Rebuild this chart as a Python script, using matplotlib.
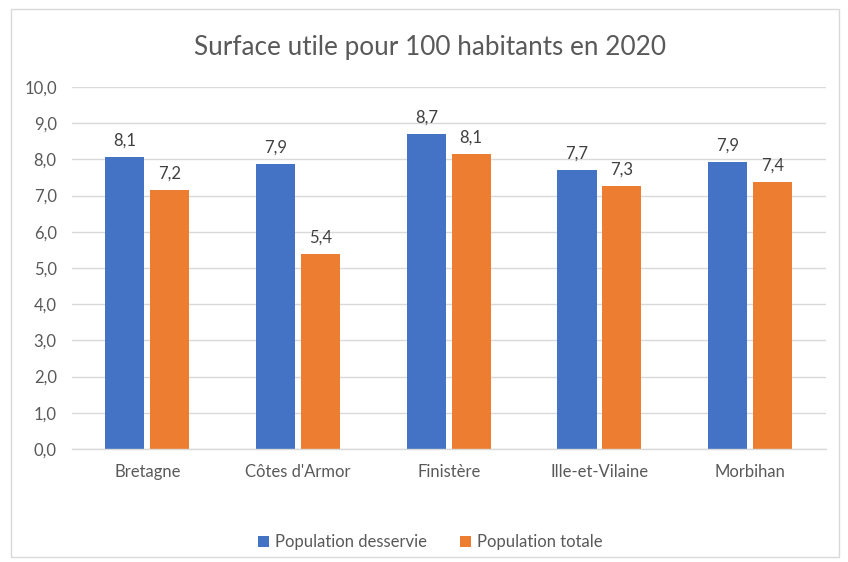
import matplotlib
matplotlib.use("Agg")
import matplotlib.pyplot as plt
import numpy as np
from matplotlib.patches import Rectangle

categories = ["Bretagne", "Côtes d'Armor", "Finistère", "Ille-et-Vilaine", "Morbihan"]
desservie = [8.07, 7.88, 8.70, 7.72, 7.94]
totale = [7.16, 5.40, 8.14, 7.27, 7.38]
series_names = ["Population desservie", "Population totale"]
yticks = [0, 1, 2, 3, 4, 5, 6, 7, 8, 9, 10]

plt.rcParams['font.family'] = ['Lato', 'DejaVu Sans']

fig = plt.figure(figsize=(8.48, 5.62), dpi=100)
ax = fig.add_axes([72/848, 1-449/562, (825.5-72)/848, (449-87)/562])

x = np.arange(len(categories))
w = 0.26
off = 0.149
blue = "#4472C4"
orange = "#ED7D31"
b1 = ax.bar(x - off, desservie, w, color=blue, label=series_names[0], zorder=3)
b2 = ax.bar(x + off, totale, w, color=orange, label=series_names[1], zorder=3)

for bars, vals in ((b1, desservie), (b2, totale)):
    for rect, v in zip(bars, vals):
        ax.annotate(f"{v:.1f}".replace(".", ","),
                    (rect.get_x() + rect.get_width()/2, v),
                    xytext=(0, 6), textcoords="offset points",
                    ha="center", va="bottom", fontsize=12, color="#404040")

ax.set_xlim(-0.5, len(categories) - 0.5)
ax.set_ylim(0, 10)
ax.set_yticks(yticks)
ax.set_yticklabels([f"{t:.1f}".replace(".", ",") for t in yticks])
ax.set_xticks(x)
ax.set_xticklabels(categories)
ax.tick_params(axis="both", length=0, labelsize=12, labelcolor="#595959")
ax.tick_params(axis="y", pad=11)
ax.tick_params(axis="x", pad=11)
ax.grid(axis="y", color="#D9D9D9", linewidth=1, zorder=0)
for s in ("top", "right", "left"):
    ax.spines[s].set_visible(False)
ax.spines["bottom"].set_color("#D9D9D9")
ax.spines["bottom"].set_linewidth(1)
ax.spines["bottom"].set_zorder(4)

fig.text(430/848, 1-47/562, "Surface utile pour 100 habitants en 2020",
         ha="center", va="center", fontsize=18.8, color="#595959")

leg = fig.legend(handles=[b1, b2], labels=series_names, loc="center",
                 bbox_to_anchor=(430/848, 1-542/562), ncol=2, frameon=False,
                 fontsize=12, handlelength=0.65, handleheight=0.65,
                 columnspacing=2.0, handletextpad=0.35)
for t in leg.get_texts():
    t.set_color("#595959")

fig.patches.append(Rectangle((11/848, 1-557/562), (839-11)/848, (557-9)/562,
                             transform=fig.transFigure, fill=False,
                             edgecolor="#D9D9D9", linewidth=1))

fig.savefig("out.png", dpi=100)
